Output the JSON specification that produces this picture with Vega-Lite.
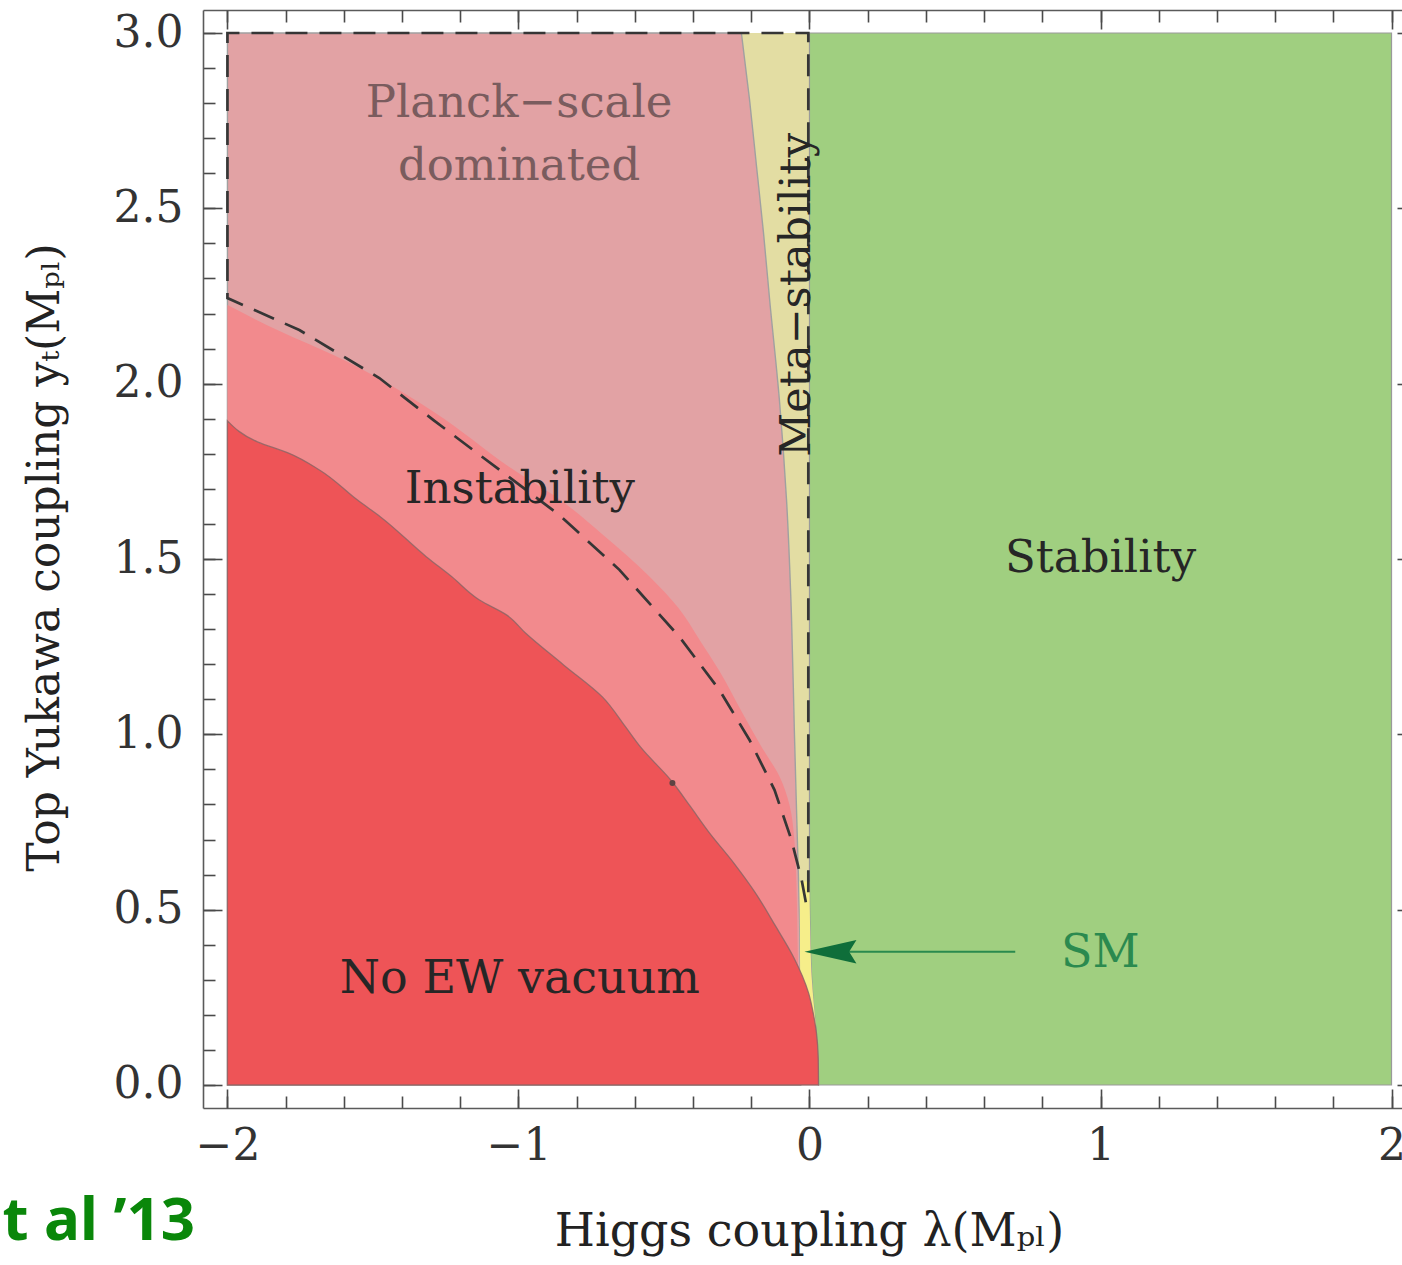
{
  "$schema": "https://vega.github.io/schema/vega-lite/v6.json",
  "width": 1199,
  "height": 1098,
  "autosize": {"type": "none"},
  "padding": {"left": 203, "top": 10, "right": 0, "bottom": 157},
  "background": "white",
  "config": {
    "view": {"stroke": null},
    "axis": {
      "grid": false,
      "tickColor": "#4a4a4a",
      "tickWidth": 1.6,
      "domainColor": "#5a5a5a",
      "domainWidth": 1.6,
      "labelFont": "DejaVu Serif",
      "labelFontSize": 44,
      "labelColor": "#333333",
      "titleFont": "DejaVu Serif",
      "titleFontSize": 46,
      "titleFontWeight": "normal",
      "titleColor": "#222222",
      "labelFlush": false,
      "labelOverlap": false
    },
    "text": {"font": "DejaVu Serif"}
  },
  "datasets": {
    "meta": [
      {"yt": 0.0, "lam": -0.030},
      {"yt": 0.27, "lam": -0.031},
      {"yt": 0.47, "lam": -0.034},
      {"yt": 0.68, "lam": -0.041},
      {"yt": 1.01, "lam": -0.052},
      {"yt": 1.34, "lam": -0.062},
      {"yt": 1.67, "lam": -0.079},
      {"yt": 1.95, "lam": -0.103},
      {"yt": 2.24, "lam": -0.137},
      {"yt": 2.43, "lam": -0.158},
      {"yt": 2.62, "lam": -0.182},
      {"yt": 2.81, "lam": -0.206},
      {"yt": 3.0, "lam": -0.234}
    ],
    "stable": [
      {"yt": 0.0, "lam": 0.031},
      {"yt": 0.08, "lam": 0.029},
      {"yt": 0.16, "lam": 0.022},
      {"yt": 0.25, "lam": 0.012},
      {"yt": 0.35, "lam": 0.005},
      {"yt": 0.45, "lam": 0.002},
      {"yt": 0.6, "lam": 0.0},
      {"yt": 3.0, "lam": 0.0}
    ],
    "sm": [
      {"yt": 0.17, "left": -0.030, "right": 0.022},
      {"yt": 0.30, "left": -0.032, "right": 0.008},
      {"yt": 0.45, "left": -0.033, "right": 0.002},
      {"yt": 0.58, "left": -0.034, "right": 0.0}
    ],
    "instability": [
      {"yt": 0.0, "lam": -0.035},
      {"yt": 0.27, "lam": -0.038},
      {"yt": 0.41, "lam": -0.041},
      {"yt": 0.58, "lam": -0.045},
      {"yt": 0.70, "lam": -0.052},
      {"yt": 0.80, "lam": -0.069},
      {"yt": 0.88, "lam": -0.103},
      {"yt": 0.96, "lam": -0.162},
      {"yt": 1.06, "lam": -0.230},
      {"yt": 1.18, "lam": -0.309},
      {"yt": 1.27, "lam": -0.378},
      {"yt": 1.36, "lam": -0.450},
      {"yt": 1.45, "lam": -0.550},
      {"yt": 1.57, "lam": -0.711},
      {"yt": 1.67, "lam": -0.859},
      {"yt": 1.76, "lam": -1.027},
      {"yt": 1.92, "lam": -1.292},
      {"yt": 2.08, "lam": -1.632},
      {"yt": 2.15, "lam": -1.821},
      {"yt": 2.224, "lam": -2.0}
    ],
    "noew": [
      {"yt": 0.0, "lam": 0.031},
      {"yt": 0.075, "lam": 0.030},
      {"yt": 0.148, "lam": 0.024},
      {"yt": 0.20, "lam": 0.014},
      {"yt": 0.262, "lam": -0.003},
      {"yt": 0.365, "lam": -0.055},
      {"yt": 0.455, "lam": -0.118},
      {"yt": 0.548, "lam": -0.186},
      {"yt": 0.635, "lam": -0.262},
      {"yt": 0.719, "lam": -0.344},
      {"yt": 0.795, "lam": -0.410},
      {"yt": 0.867, "lam": -0.474},
      {"yt": 0.964, "lam": -0.581},
      {"yt": 1.021, "lam": -0.632},
      {"yt": 1.106, "lam": -0.711},
      {"yt": 1.198, "lam": -0.845},
      {"yt": 1.289, "lam": -0.976},
      {"yt": 1.34, "lam": -1.04},
      {"yt": 1.383, "lam": -1.134},
      {"yt": 1.45, "lam": -1.23},
      {"yt": 1.506, "lam": -1.316},
      {"yt": 1.620, "lam": -1.474},
      {"yt": 1.668, "lam": -1.553},
      {"yt": 1.754, "lam": -1.684},
      {"yt": 1.802, "lam": -1.790},
      {"yt": 1.834, "lam": -1.897},
      {"yt": 1.894, "lam": -2.0}
    ],
    "planckEdge": [
      {"i": 0, "lam": -0.004, "yt": 0.55},
      {"i": 1, "lam": -0.004, "yt": 3.0},
      {"i": 2, "lam": -2.0, "yt": 3.0},
      {"i": 3, "lam": -2.0, "yt": 2.244},
      {"i": 4, "lam": -1.753, "yt": 2.153},
      {"i": 5, "lam": -1.478, "yt": 2.016},
      {"i": 6, "lam": -1.292, "yt": 1.896},
      {"i": 7, "lam": -1.065, "yt": 1.754},
      {"i": 8, "lam": -0.859, "yt": 1.625},
      {"i": 9, "lam": -0.653, "yt": 1.469},
      {"i": 10, "lam": -0.447, "yt": 1.278},
      {"i": 11, "lam": -0.309, "yt": 1.126},
      {"i": 12, "lam": -0.206, "yt": 0.984},
      {"i": 13, "lam": -0.120, "yt": 0.841},
      {"i": 14, "lam": -0.062, "yt": 0.699},
      {"i": 15, "lam": -0.027, "yt": 0.585},
      {"i": 16, "lam": -0.010, "yt": 0.510}
    ],
    "blob": [{"lam": -0.471, "yt": 0.861}],
    "smArrow": [{"x0": 0.12, "x1": 0.707, "yt": 0.380}],
    "smHead": [{"lam": 0.072, "yt": 0.380}],
    "regionLabels": [
      {"text": "Instability", "lam": -0.995, "yt": 1.660},
      {"text": "Stability", "lam": 1.0, "yt": 1.463}
    ],
    "vacuumLabel": [{"text": "No EW vacuum", "lam": -0.995, "yt": 0.262}],
    "planckLabels": [
      {"text": "Planck−scale", "lam": -0.998, "yt": 2.760},
      {"text": "dominated", "lam": -0.998, "yt": 2.581}
    ],
    "metaLabel": [{"text": "Meta−stability", "lam": 0.003, "yt": 2.253}],
    "smLabel": [{"text": "SM", "lam": 0.999, "yt": 0.336}],
    "credit": [{"text": "et al ’13", "lam": -2.111, "yt": -0.442}]
  },
  "resolve": {"axis": {"x": "independent", "y": "independent"}},
  "layer": [
    {
      "data": {"name": "meta"},
      "transform": [{"filter": "datum.yt >= 0.47"}],
      "mark": {"type": "area", "orient": "horizontal", "fill": "#E3DDA3", "interpolate": "monotone"},
      "encoding": {
        "y": {
          "field": "yt", "type": "quantitative",
          "scale": {"domain": [-0.0656, 3.0656], "nice": false, "zero": false},
          "axis": {
            "orient": "left", "values": [0, 0.5, 1, 1.5, 2, 2.5, 3], "format": ".1f",
            "ticks": false, "domain": false, "labelPadding": 20,
            "title": "Top Yukawa coupling yₜ(Mₚₗ)", "titleFontSize": 44, "titleAngle": 270,
            "titleX": -158, "titleY": 547, "titleAlign": "center", "titleBaseline": "middle"
          }
        },
        "x": {
          "field": "lam", "type": "quantitative",
          "scale": {"domain": [-2.084, 2.036], "nice": false, "zero": false},
          "axis": {
            "orient": "bottom", "values": [-2, -1, 0, 1, 2],
            "ticks": false, "domain": false, "labelPadding": 16,
            "labelExpr": "datum.value < 0 ? '−' + format(-datum.value, 'd') : format(datum.value, 'd')",
            "title": "Higgs coupling λ(Mₚₗ)",
            "titleX": 606, "titleY": 137, "titleAlign": "center", "titleBaseline": "alphabetic"
          }
        },
        "x2": {"datum": 0}
      }
    },
    {
      "data": {"name": "stable"},
      "mark": {"type": "area", "orient": "horizontal", "fill": "#A0CF80", "stroke": "#9a9a9a", "strokeWidth": 1.2, "interpolate": "monotone"},
      "encoding": {
        "y": {
          "field": "yt", "type": "quantitative",
          "scale": {"domain": [-0.0656, 3.0656], "nice": false, "zero": false},
          "axis": {
            "orient": "left",
            "values": [0, 0.1, 0.2, 0.3, 0.4, 0.5, 0.6, 0.7, 0.8, 0.9, 1, 1.1, 1.2, 1.3, 1.4, 1.5, 1.6, 1.7, 1.8, 1.9, 2, 2.1, 2.2, 2.3, 2.4, 2.5, 2.6, 2.7, 2.8, 2.9, 3],
            "tickSize": -12, "labels": false, "domain": true, "title": null
          }
        },
        "x": {
          "field": "lam", "type": "quantitative",
          "scale": {"domain": [-2.084, 2.036], "nice": false, "zero": false},
          "axis": {
            "orient": "bottom",
            "values": [-2, -1.8, -1.6, -1.4, -1.2, -1, -0.8, -0.6, -0.4, -0.2, 0, 0.2, 0.4, 0.6, 0.8, 1, 1.2, 1.4, 1.6, 1.8, 2],
            "tickSize": -12, "labels": false, "domain": true, "title": null
          }
        },
        "x2": {"datum": 2}
      }
    },
    {
      "data": {"name": "meta"},
      "mark": {"type": "area", "orient": "horizontal", "fill": "#E2A2A4", "stroke": "#a0a0a0", "strokeWidth": 1.4, "interpolate": "monotone"},
      "encoding": {
        "y": {
          "field": "yt", "type": "quantitative",
          "scale": {"domain": [-0.0656, 3.0656], "nice": false, "zero": false},
          "axis": {"orient": "left", "values": [0, 0.5, 1, 1.5, 2, 2.5, 3], "tickSize": -19, "labels": false, "domain": false, "title": null}
        },
        "x": {
          "field": "lam", "type": "quantitative",
          "scale": {"domain": [-2.084, 2.036], "nice": false, "zero": false},
          "axis": {"orient": "bottom", "values": [-2, -1, 0, 1, 2], "tickSize": -19, "labels": false, "domain": false, "title": null}
        },
        "x2": {"datum": -2}
      }
    },
    {
      "data": {"name": "sm"},
      "mark": {"type": "area", "orient": "horizontal", "fill": "#F6EE8A", "interpolate": "monotone"},
      "encoding": {
        "y": {
          "field": "yt", "type": "quantitative",
          "scale": {"domain": [-0.0656, 3.0656], "nice": false, "zero": false},
          "axis": {"orient": "right", "offset": 14, "values": [0, 0.5, 1, 1.5, 2, 2.5, 3], "tickSize": -19, "labels": false, "domain": false, "title": null}
        },
        "x": {
          "field": "right", "type": "quantitative",
          "scale": {"domain": [-2.084, 2.036], "nice": false, "zero": false},
          "axis": {"orient": "top", "values": [-2, -1, 0, 1, 2], "tickSize": -19, "labels": false, "domain": true, "title": null}
        },
        "x2": {"field": "left"}
      }
    },
    {
      "data": {"name": "instability"},
      "mark": {"type": "area", "orient": "horizontal", "fill": "#F28A8D", "interpolate": "monotone"},
      "encoding": {
        "y": {
          "field": "yt", "type": "quantitative",
          "scale": {"domain": [-0.0656, 3.0656], "nice": false, "zero": false},
          "axis": {
            "orient": "right", "offset": 14,
            "values": [0, 0.1, 0.2, 0.3, 0.4, 0.5, 0.6, 0.7, 0.8, 0.9, 1, 1.1, 1.2, 1.3, 1.4, 1.5, 1.6, 1.7, 1.8, 1.9, 2, 2.1, 2.2, 2.3, 2.4, 2.5, 2.6, 2.7, 2.8, 2.9, 3],
            "tickSize": -12, "labels": false, "domain": false, "title": null
          }
        },
        "x": {
          "field": "lam", "type": "quantitative",
          "scale": {"domain": [-2.084, 2.036], "nice": false, "zero": false},
          "axis": {
            "orient": "top",
            "values": [-2, -1.8, -1.6, -1.4, -1.2, -1, -0.8, -0.6, -0.4, -0.2, 0, 0.2, 0.4, 0.6, 0.8, 1, 1.2, 1.4, 1.6, 1.8, 2],
            "tickSize": -12, "labels": false, "domain": false, "title": null
          }
        },
        "x2": {"datum": -2}
      }
    },
    {
      "data": {"name": "noew"},
      "mark": {"type": "area", "orient": "horizontal", "fill": "#EE5457", "stroke": "#8e6565", "strokeOpacity": 0.85, "strokeWidth": 1.3, "interpolate": "monotone"},
      "encoding": {
        "y": {"field": "yt", "type": "quantitative", "scale": {"domain": [-0.0656, 3.0656], "nice": false, "zero": false}, "axis": null},
        "x": {"field": "lam", "type": "quantitative", "scale": {"domain": [-2.084, 2.036], "nice": false, "zero": false}, "axis": null},
        "x2": {"datum": -2}
      }
    },
    {
      "data": {"name": "planckEdge"},
      "mark": {"type": "line", "stroke": "#363636", "strokeWidth": 2.7, "strokeDash": [22, 12], "strokeCap": "butt"},
      "encoding": {
        "x": {"field": "lam", "type": "quantitative", "scale": {"domain": [-2.084, 2.036], "nice": false, "zero": false}, "axis": null},
        "y": {"field": "yt", "type": "quantitative", "scale": {"domain": [-0.0656, 3.0656], "nice": false, "zero": false}, "axis": null},
        "order": {"field": "i", "type": "quantitative"}
      }
    },
    {
      "data": {"name": "blob"},
      "mark": {"type": "point", "filled": true, "size": 36, "color": "#5e4444", "opacity": 1},
      "encoding": {
        "x": {"field": "lam", "type": "quantitative", "scale": {"domain": [-2.084, 2.036], "nice": false, "zero": false}, "axis": null},
        "y": {"field": "yt", "type": "quantitative", "scale": {"domain": [-0.0656, 3.0656], "nice": false, "zero": false}, "axis": null}
      }
    },
    {
      "data": {"name": "smArrow"},
      "mark": {"type": "rule", "color": "#2a8a4e", "strokeWidth": 2},
      "encoding": {
        "x": {"field": "x0", "type": "quantitative", "scale": {"domain": [-2.084, 2.036], "nice": false, "zero": false}, "axis": null},
        "x2": {"field": "x1"},
        "y": {"field": "yt", "type": "quantitative", "scale": {"domain": [-0.0656, 3.0656], "nice": false, "zero": false}, "axis": null}
      }
    },
    {
      "data": {"name": "smHead"},
      "mark": {"type": "point", "filled": true, "opacity": 1, "color": "#0f6e3a", "size": 2704, "shape": "M -1 0 L 1 -0.45 L 0.72 0 L 1 0.45 Z"},
      "encoding": {
        "x": {"field": "lam", "type": "quantitative", "scale": {"domain": [-2.084, 2.036], "nice": false, "zero": false}, "axis": null},
        "y": {"field": "yt", "type": "quantitative", "scale": {"domain": [-0.0656, 3.0656], "nice": false, "zero": false}, "axis": null}
      }
    },
    {
      "data": {"name": "regionLabels"},
      "mark": {"type": "text", "fontSize": 45, "color": "#262626", "align": "center", "baseline": "alphabetic"},
      "encoding": {
        "x": {"field": "lam", "type": "quantitative", "scale": {"domain": [-2.084, 2.036], "nice": false, "zero": false}, "axis": null},
        "y": {"field": "yt", "type": "quantitative", "scale": {"domain": [-0.0656, 3.0656], "nice": false, "zero": false}, "axis": null},
        "text": {"field": "text"}
      }
    },
    {
      "data": {"name": "vacuumLabel"},
      "mark": {"type": "text", "fontSize": 46, "letterSpacing": 0.6, "color": "#262626", "align": "center", "baseline": "alphabetic"},
      "encoding": {
        "x": {"field": "lam", "type": "quantitative", "scale": {"domain": [-2.084, 2.036], "nice": false, "zero": false}, "axis": null},
        "y": {"field": "yt", "type": "quantitative", "scale": {"domain": [-0.0656, 3.0656], "nice": false, "zero": false}, "axis": null},
        "text": {"field": "text"}
      }
    },
    {
      "data": {"name": "planckLabels"},
      "mark": {"type": "text", "fontSize": 45, "color": "#7a5c5e", "align": "center", "baseline": "alphabetic"},
      "encoding": {
        "x": {"field": "lam", "type": "quantitative", "scale": {"domain": [-2.084, 2.036], "nice": false, "zero": false}, "axis": null},
        "y": {"field": "yt", "type": "quantitative", "scale": {"domain": [-0.0656, 3.0656], "nice": false, "zero": false}, "axis": null},
        "text": {"field": "text"}
      }
    },
    {
      "data": {"name": "metaLabel"},
      "mark": {"type": "text", "fontSize": 43, "color": "#262626", "align": "center", "baseline": "alphabetic", "angle": 270},
      "encoding": {
        "x": {"field": "lam", "type": "quantitative", "scale": {"domain": [-2.084, 2.036], "nice": false, "zero": false}, "axis": null},
        "y": {"field": "yt", "type": "quantitative", "scale": {"domain": [-0.0656, 3.0656], "nice": false, "zero": false}, "axis": null},
        "text": {"field": "text"}
      }
    },
    {
      "data": {"name": "smLabel"},
      "mark": {"type": "text", "fontSize": 46, "color": "#2b8a4f", "align": "center", "baseline": "alphabetic"},
      "encoding": {
        "x": {"field": "lam", "type": "quantitative", "scale": {"domain": [-2.084, 2.036], "nice": false, "zero": false}, "axis": null},
        "y": {"field": "yt", "type": "quantitative", "scale": {"domain": [-0.0656, 3.0656], "nice": false, "zero": false}, "axis": null},
        "text": {"field": "text"}
      }
    },
    {
      "data": {"name": "credit"},
      "mark": {"type": "text", "font": "Noto Sans", "fontSize": 60, "fontWeight": "bold", "color": "#0a870a", "align": "right", "baseline": "alphabetic"},
      "encoding": {
        "x": {"field": "lam", "type": "quantitative", "scale": {"domain": [-2.084, 2.036], "nice": false, "zero": false}, "axis": null},
        "y": {"field": "yt", "type": "quantitative", "scale": {"domain": [-0.0656, 3.0656], "nice": false, "zero": false}, "axis": null},
        "text": {"field": "text"}
      }
    }
  ]
}
